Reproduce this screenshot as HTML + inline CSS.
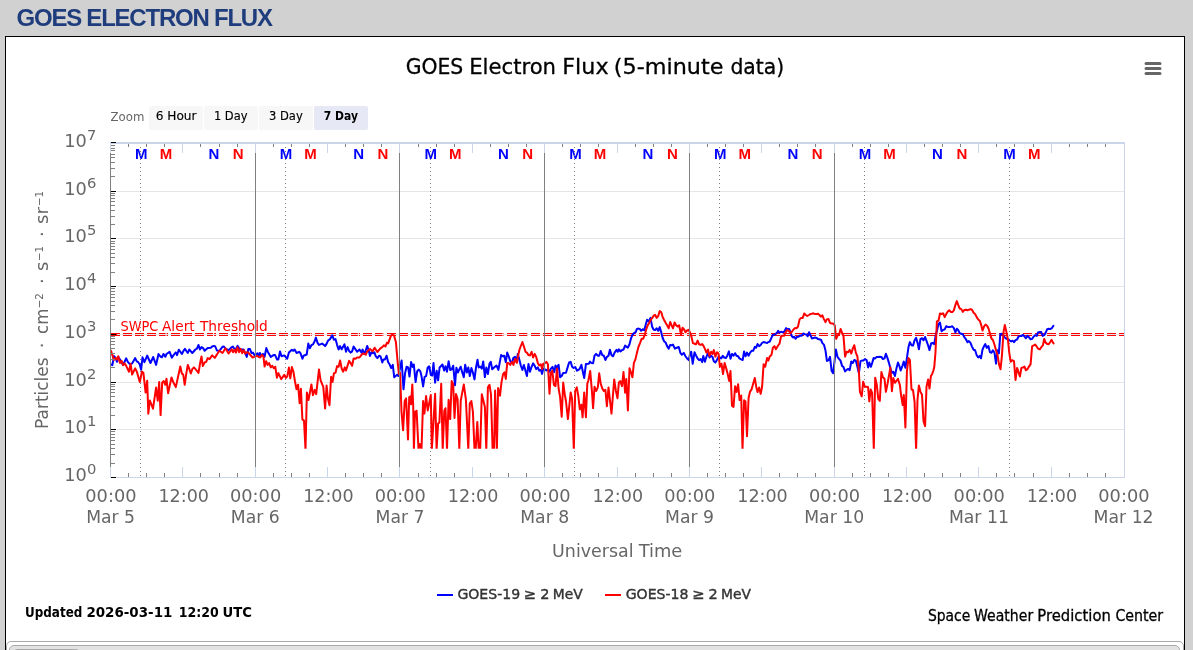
<!DOCTYPE html>
<html lang="en"><head><meta charset="utf-8"><title>GOES Electron Flux</title>
<style>
html,body{margin:0;padding:0;}
body{background:#d1d1d1;width:1193px;height:650px;overflow:hidden;position:relative;font-family:"Liberation Sans", sans-serif;}
h1{position:absolute;left:16.5px;top:4px;margin:0;font:bold 24px/28px "Liberation Sans", sans-serif;letter-spacing:-1.23px;color:#1f3d7c;white-space:nowrap;}
#panel{position:absolute;left:5px;top:36px;width:1178px;height:700px;background:#fff;border:1px solid #000;}
#tabs{position:absolute;left:0px;top:604px;width:1176px;height:200px;border:1px solid #aaa;border-radius:5px;background:#fff;}
#tabs ul{position:absolute;left:2px;top:3px;width:1169px;height:40px;margin:0;padding:0;list-style:none;border:1px solid #aaa;border-radius:5px;background:#e2e2e2;}
#tabs li{position:absolute;top:3px;height:40px;background:#c4c4c4;border:1px solid #aaa;border-radius:4px 4px 0 0;font-size:1px;color:transparent;}
#chart{position:absolute;left:0;top:0;}
text{font-family:"DejaVu Sans", "Liberation Sans", sans-serif;}
</style></head><body>
<h1>GOES ELECTRON FLUX</h1>
<div id="panel"><div id="tabs"><ul><li style="left:3px;width:65px"></li></ul></div></div>
<svg id="chart" width="1193" height="650" viewBox="0 0 1193 650">
<text y="73.5" font-size="21.2" fill="#000" stroke="#000" stroke-width="0.3"><tspan x="405.71" textLength="57.59" lengthAdjust="spacingAndGlyphs">GOES</tspan> <tspan x="469.26" textLength="86.78" lengthAdjust="spacingAndGlyphs">Electron</tspan> <tspan x="562.28" textLength="46.30" lengthAdjust="spacingAndGlyphs">Flux</tspan> <tspan x="613.81" textLength="109.61" lengthAdjust="spacingAndGlyphs">(5-minute</tspan> <tspan x="730.46" textLength="53.79" lengthAdjust="spacingAndGlyphs">data)</tspan></text>
<text x="110.6" y="121.1" font-size="12.9" fill="#666" textLength="33.8" lengthAdjust="spacingAndGlyphs">Zoom</text>
<rect x="149" y="106" width="54" height="24" rx="2" fill="#f7f7f7"/>
<text x="176.15" y="119.7" font-size="12.5" fill="#000" text-anchor="middle" textLength="40.9" lengthAdjust="spacingAndGlyphs" stroke="#000" stroke-width="0.15">6 Hour</text>
<rect x="204" y="106" width="54" height="24" rx="2" fill="#f7f7f7"/>
<text x="230.7" y="119.7" font-size="12.5" fill="#000" text-anchor="middle" textLength="33.6" lengthAdjust="spacingAndGlyphs" stroke="#000" stroke-width="0.15">1 Day</text>
<rect x="259" y="106" width="54" height="24" rx="2" fill="#f7f7f7"/>
<text x="285.85" y="119.7" font-size="12.5" fill="#000" text-anchor="middle" textLength="33.7" lengthAdjust="spacingAndGlyphs" stroke="#000" stroke-width="0.15">3 Day</text>
<rect x="314" y="106" width="54" height="24" rx="2" fill="#e6e9f5"/>
<text x="340.85" y="119.7" font-size="12.5" fill="#000" text-anchor="middle" textLength="34.1" lengthAdjust="spacingAndGlyphs" font-weight="bold" font-family='"DejaVu Sans Condensed", "DejaVu Sans", "Liberation Sans", sans-serif'>7 Day</text>
<path d="M1146 63.5H1160M1146 68.5H1160M1146 73.5H1160" stroke="#666" stroke-width="3" stroke-linecap="round" fill="none"/>
<path d="M111 334.5H1124" stroke="#f00" stroke-width="3" stroke-dasharray="9,3" fill="none"/>
<path d="M166.07 143V477" stroke="#fff" stroke-width="1" fill="none"/>
<path d="M213.60 143V477" stroke="#fff" stroke-width="1" fill="none"/>
<path d="M238.40 143V477" stroke="#fff" stroke-width="1" fill="none"/>
<path d="M310.78 143V477" stroke="#fff" stroke-width="1" fill="none"/>
<path d="M358.31 143V477" stroke="#fff" stroke-width="1" fill="none"/>
<path d="M383.11 143V477" stroke="#fff" stroke-width="1" fill="none"/>
<path d="M455.50 143V477" stroke="#fff" stroke-width="1" fill="none"/>
<path d="M503.03 143V477" stroke="#fff" stroke-width="1" fill="none"/>
<path d="M527.83 143V477" stroke="#fff" stroke-width="1" fill="none"/>
<path d="M600.21 143V477" stroke="#fff" stroke-width="1" fill="none"/>
<path d="M647.74 143V477" stroke="#fff" stroke-width="1" fill="none"/>
<path d="M672.54 143V477" stroke="#fff" stroke-width="1" fill="none"/>
<path d="M744.93 143V477" stroke="#fff" stroke-width="1" fill="none"/>
<path d="M792.46 143V477" stroke="#fff" stroke-width="1" fill="none"/>
<path d="M817.26 143V477" stroke="#fff" stroke-width="1" fill="none"/>
<path d="M889.64 143V477" stroke="#fff" stroke-width="1" fill="none"/>
<path d="M937.17 143V477" stroke="#fff" stroke-width="1" fill="none"/>
<path d="M961.97 143V477" stroke="#fff" stroke-width="1" fill="none"/>
<path d="M1034.36 143V477" stroke="#fff" stroke-width="1" fill="none"/>
<path d="M117 191.5H1124" stroke="#e6e6e6" stroke-width="1" fill="none"/>
<path d="M117 238.5H1124" stroke="#e6e6e6" stroke-width="1" fill="none"/>
<path d="M117 286.5H1124" stroke="#e6e6e6" stroke-width="1" fill="none"/>
<path d="M117 334.5H1124" stroke="#e6e6e6" stroke-width="1" fill="none"/>
<path d="M117 382.5H1124" stroke="#e6e6e6" stroke-width="1" fill="none"/>
<path d="M117 429.5H1124" stroke="#e6e6e6" stroke-width="1" fill="none"/>
<text y="331.2" font-size="13.7" fill="#f00"><tspan x="120.42" textLength="37.95" lengthAdjust="spacingAndGlyphs">SWPC</tspan> <tspan x="161.98" textLength="32.70" lengthAdjust="spacingAndGlyphs">Alert</tspan> <tspan x="199.98" textLength="67.74" lengthAdjust="spacingAndGlyphs">Threshold</tspan></text>
<text x="141.3" y="159" text-anchor="middle" font-size="15" font-weight="bold" fill="#00f" style="font-family:'Liberation Sans', sans-serif">M</text>
<text x="165.9" y="159" text-anchor="middle" font-size="15" font-weight="bold" fill="#f00" style="font-family:'Liberation Sans', sans-serif">M</text>
<text x="213.9" y="159" text-anchor="middle" font-size="15" font-weight="bold" fill="#00f" style="font-family:'Liberation Sans', sans-serif">N</text>
<text x="238.2" y="159" text-anchor="middle" font-size="15" font-weight="bold" fill="#f00" style="font-family:'Liberation Sans', sans-serif">N</text>
<text x="286.0" y="159" text-anchor="middle" font-size="15" font-weight="bold" fill="#00f" style="font-family:'Liberation Sans', sans-serif">M</text>
<text x="310.6" y="159" text-anchor="middle" font-size="15" font-weight="bold" fill="#f00" style="font-family:'Liberation Sans', sans-serif">M</text>
<text x="358.6" y="159" text-anchor="middle" font-size="15" font-weight="bold" fill="#00f" style="font-family:'Liberation Sans', sans-serif">N</text>
<text x="382.9" y="159" text-anchor="middle" font-size="15" font-weight="bold" fill="#f00" style="font-family:'Liberation Sans', sans-serif">N</text>
<text x="430.7" y="159" text-anchor="middle" font-size="15" font-weight="bold" fill="#00f" style="font-family:'Liberation Sans', sans-serif">M</text>
<text x="455.3" y="159" text-anchor="middle" font-size="15" font-weight="bold" fill="#f00" style="font-family:'Liberation Sans', sans-serif">M</text>
<text x="503.3" y="159" text-anchor="middle" font-size="15" font-weight="bold" fill="#00f" style="font-family:'Liberation Sans', sans-serif">N</text>
<text x="527.6" y="159" text-anchor="middle" font-size="15" font-weight="bold" fill="#f00" style="font-family:'Liberation Sans', sans-serif">N</text>
<text x="575.4" y="159" text-anchor="middle" font-size="15" font-weight="bold" fill="#00f" style="font-family:'Liberation Sans', sans-serif">M</text>
<text x="600.0" y="159" text-anchor="middle" font-size="15" font-weight="bold" fill="#f00" style="font-family:'Liberation Sans', sans-serif">M</text>
<text x="648.0" y="159" text-anchor="middle" font-size="15" font-weight="bold" fill="#00f" style="font-family:'Liberation Sans', sans-serif">N</text>
<text x="672.3" y="159" text-anchor="middle" font-size="15" font-weight="bold" fill="#f00" style="font-family:'Liberation Sans', sans-serif">N</text>
<text x="720.2" y="159" text-anchor="middle" font-size="15" font-weight="bold" fill="#00f" style="font-family:'Liberation Sans', sans-serif">M</text>
<text x="744.8" y="159" text-anchor="middle" font-size="15" font-weight="bold" fill="#f00" style="font-family:'Liberation Sans', sans-serif">M</text>
<text x="792.8" y="159" text-anchor="middle" font-size="15" font-weight="bold" fill="#00f" style="font-family:'Liberation Sans', sans-serif">N</text>
<text x="817.1" y="159" text-anchor="middle" font-size="15" font-weight="bold" fill="#f00" style="font-family:'Liberation Sans', sans-serif">N</text>
<text x="864.9" y="159" text-anchor="middle" font-size="15" font-weight="bold" fill="#00f" style="font-family:'Liberation Sans', sans-serif">M</text>
<text x="889.5" y="159" text-anchor="middle" font-size="15" font-weight="bold" fill="#f00" style="font-family:'Liberation Sans', sans-serif">M</text>
<text x="937.5" y="159" text-anchor="middle" font-size="15" font-weight="bold" fill="#00f" style="font-family:'Liberation Sans', sans-serif">N</text>
<text x="961.8" y="159" text-anchor="middle" font-size="15" font-weight="bold" fill="#f00" style="font-family:'Liberation Sans', sans-serif">N</text>
<text x="1009.6" y="159" text-anchor="middle" font-size="15" font-weight="bold" fill="#00f" style="font-family:'Liberation Sans', sans-serif">M</text>
<text x="1034.2" y="159" text-anchor="middle" font-size="15" font-weight="bold" fill="#f00" style="font-family:'Liberation Sans', sans-serif">M</text>
<path d="M140.5 143V477" stroke="#808080" stroke-width="1" stroke-dasharray="1,3" fill="none"/>
<path d="M285.5 143V477" stroke="#808080" stroke-width="1" stroke-dasharray="1,3" fill="none"/>
<path d="M430.5 143V477" stroke="#808080" stroke-width="1" stroke-dasharray="1,3" fill="none"/>
<path d="M574.5 143V477" stroke="#808080" stroke-width="1" stroke-dasharray="1,3" fill="none"/>
<path d="M719.5 143V477" stroke="#808080" stroke-width="1" stroke-dasharray="1,3" fill="none"/>
<path d="M864.5 143V477" stroke="#808080" stroke-width="1" stroke-dasharray="1,3" fill="none"/>
<path d="M1009.5 143V477" stroke="#808080" stroke-width="1" stroke-dasharray="1,3" fill="none"/>
<clipPath id="sc"><rect x="109" y="143" width="1017" height="305.85"/></clipPath>
<path d="M111.0 364.5 L112.4 365.1 L114.0 356.1 L115.5 357.7 L116.9 361.8 L118.5 357.3 L120.0 359.5 L123.1 364.9 L126.2 358.3 L127.8 361.8 L129.6 363.9 L132.1 363.5 L135.2 358.1 L136.8 361.4 L138.2 362.2 L139.8 364.5 L141.1 369.8 L142.5 357.3 L144.4 362.2 L147.2 355.6 L148.9 359.5 L150.5 363.0 L153.2 357.0 L156.1 364.9 L158.5 354.0 L160.4 356.5 L161.9 357.3 L163.5 354.0 L165.3 356.8 L166.5 354.0 L169.6 351.9 L171.8 357.7 L173.9 354.6 L175.8 352.4 L177.0 355.2 L178.8 349.7 L181.9 354.0 L183.8 350.3 L184.9 348.9 L187.8 353.0 L189.2 349.5 L192.3 353.0 L195.4 349.5 L196.9 348.6 L198.5 345.0 L199.9 349.5 L201.5 347.1 L203.1 348.1 L204.6 350.8 L207.7 348.1 L210.8 347.7 L212.2 346.5 L213.8 345.9 L215.3 346.5 L216.9 350.5 L219.4 350.8 L220.9 348.9 L222.5 346.8 L223.9 346.5 L225.5 348.6 L228.6 350.1 L231.1 347.7 L232.9 346.5 L234.8 349.5 L236.0 348.9 L237.5 345.9 L239.1 348.3 L240.9 349.5 L243.6 349.5 L245.2 353.2 L246.8 356.9 L248.3 348.9 L249.9 348.9 L251.4 353.0 L252.9 352.6 L254.5 355.1 L255.9 354.7 L257.5 353.2 L258.4 356.3 L259.9 353.0 L261.1 355.7 L263.0 353.9 L264.6 356.7 L266.3 348.1 L267.9 352.0 L270.8 356.9 L273.5 355.1 L275.1 355.1 L277.1 359.6 L278.4 359.4 L280.0 351.4 L281.5 356.3 L284.3 355.4 L287.2 358.8 L288.9 352.6 L291.9 349.8 L293.4 350.8 L294.6 349.5 L296.6 353.0 L299.1 351.8 L300.5 353.2 L302.4 358.8 L303.6 355.7 L306.7 354.5 L308.3 343.6 L309.8 348.3 L311.4 345.2 L312.9 344.4 L314.3 342.1 L315.9 337.6 L317.5 342.8 L319.0 344.9 L322.1 343.6 L325.1 346.1 L326.8 343.4 L328.2 340.3 L329.8 339.4 L332.3 335.4 L333.9 339.7 L335.5 339.1 L337.0 344.6 L338.6 349.5 L340.1 346.1 L341.7 349.3 L343.2 346.5 L344.5 344.4 L346.0 351.8 L347.6 347.1 L349.1 351.0 L350.7 352.6 L352.1 351.4 L353.6 346.5 L355.2 348.9 L357.1 351.8 L359.5 349.5 L361.4 352.6 L362.6 349.5 L364.1 353.9 L365.7 350.8 L367.2 345.9 L368.8 350.8 L370.0 355.9 L371.5 352.2 L373.1 353.2 L374.3 352.2 L375.8 356.3 L377.4 358.1 L379.2 355.7 L380.5 356.3 L382.3 362.5 L383.5 359.4 L385.0 359.4 L386.6 355.7 L388.1 361.9 L389.7 364.6 L391.2 368.0 L392.8 364.9 L394.2 377.2 L397.1 374.8 L398.3 376.0 L399.8 369.2 L401.6 360.4 L403.5 389.3 L405.1 372.9 L406.6 366.8 L408.1 367.4 L409.5 376.6 L411.1 362.0 L412.6 366.9 L413.8 364.5 L415.6 382.1 L417.2 371.2 L418.7 369.6 L420.3 371.2 L421.5 376.1 L423.1 386.4 L424.6 376.8 L426.1 376.1 L427.7 367.5 L429.2 366.3 L430.8 374.9 L432.2 375.5 L433.5 363.1 L435.1 382.7 L436.7 370.8 L438.1 380.3 L439.6 367.5 L442.5 364.5 L444.1 370.6 L445.5 366.3 L447.0 371.7 L448.6 361.3 L450.2 370.0 L451.7 369.4 L453.2 365.7 L455.0 385.2 L456.4 367.7 L457.9 372.5 L459.3 369.4 L460.7 366.7 L462.1 371.9 L463.8 377.2 L465.2 364.7 L466.8 372.5 L468.3 367.5 L469.8 376.0 L471.4 368.1 L472.9 372.5 L474.5 379.4 L475.9 368.1 L477.5 359.7 L478.7 367.4 L480.2 366.5 L481.8 368.6 L483.2 361.4 L484.9 377.1 L486.3 367.6 L487.9 374.0 L489.5 363.7 L490.8 361.9 L492.2 369.2 L494.1 367.4 L496.5 365.5 L498.4 369.9 L501.1 355.1 L502.7 356.3 L504.2 355.7 L505.8 362.3 L507.2 352.6 L508.9 356.9 L510.3 361.2 L511.9 363.1 L513.4 357.9 L515.0 356.9 L516.5 361.7 L517.8 354.0 L519.3 359.4 L520.8 365.5 L522.4 369.9 L523.9 364.9 L526.9 376.1 L528.5 363.9 L530.0 371.7 L531.6 366.8 L533.1 363.3 L534.7 365.8 L536.2 369.2 L537.8 367.4 L539.2 370.7 L540.9 369.9 L542.1 373.9 L543.3 368.6 L544.8 369.2 L546.4 370.5 L547.9 369.2 L549.5 371.7 L550.9 368.6 L552.5 366.8 L554.3 372.1 L555.5 365.5 L557.0 367.4 L558.6 364.9 L560.1 377.2 L561.7 376.0 L563.2 372.9 L566.0 372.7 L567.6 367.4 L569.1 362.5 L570.7 361.9 L572.1 366.8 L573.6 368.0 L575.2 367.0 L577.1 370.7 L579.5 369.2 L581.4 364.9 L582.6 370.5 L584.2 378.0 L585.9 364.1 L588.8 363.7 L590.0 361.6 L591.5 363.1 L593.1 363.3 L594.5 355.7 L596.1 353.9 L598.0 355.7 L599.2 355.7 L600.7 351.0 L602.3 355.1 L603.8 355.7 L605.4 360.0 L606.9 356.9 L608.5 355.7 L609.9 349.7 L611.5 355.1 L613.0 356.3 L614.6 352.6 L616.5 349.8 L617.7 351.8 L618.9 349.3 L620.4 351.4 L622.0 350.1 L623.5 349.5 L625.1 345.6 L627.8 347.7 L629.5 344.3 L631.1 338.1 L632.6 334.5 L634.2 333.0 L635.7 332.2 L636.9 328.9 L638.5 328.6 L639.8 328.9 L641.2 330.8 L642.9 329.3 L644.3 330.1 L645.9 324.0 L647.1 319.7 L649.0 321.5 L650.5 317.9 L652.1 326.5 L653.5 329.5 L655.1 330.1 L656.6 328.3 L658.2 330.8 L659.7 327.1 L661.3 332.6 L662.5 337.5 L664.0 341.2 L665.6 342.5 L667.1 346.1 L668.7 348.6 L670.2 344.9 L671.8 345.3 L673.0 344.6 L674.9 348.6 L676.1 348.0 L678.8 347.0 L680.4 352.9 L681.9 354.8 L683.8 352.9 L685.3 356.0 L687.1 358.5 L688.8 360.1 L690.2 352.9 L691.2 351.7 L692.7 363.8 L694.5 352.3 L696.0 355.4 L697.6 358.5 L699.1 360.1 L700.7 359.1 L702.2 362.1 L703.3 355.9 L704.9 361.7 L706.4 356.9 L708.0 353.2 L709.5 357.5 L711.1 355.7 L712.5 356.9 L713.8 361.2 L715.4 362.5 L716.9 360.0 L718.5 356.9 L719.9 357.5 L721.2 358.4 L722.8 355.9 L724.2 357.5 L725.9 358.1 L727.3 355.7 L728.9 351.4 L730.5 358.8 L732.0 353.9 L733.5 355.7 L735.1 353.2 L736.5 355.7 L738.1 356.3 L739.4 358.4 L741.2 359.4 L742.7 360.0 L744.1 351.4 L745.5 356.3 L747.0 352.6 L748.6 355.7 L750.1 352.6 L751.7 350.8 L753.2 350.8 L754.8 346.8 L756.2 347.7 L757.5 344.0 L759.1 346.1 L760.5 345.2 L762.1 342.8 L763.6 342.1 L765.2 342.4 L767.1 343.1 L768.3 342.1 L769.8 341.5 L771.4 337.9 L772.9 334.8 L774.5 334.8 L775.9 333.8 L777.5 332.1 L778.1 330.8 L779.5 332.6 L781.1 331.8 L782.6 332.2 L784.2 331.8 L786.1 328.1 L787.3 329.5 L789.1 328.9 L790.4 332.2 L791.9 336.3 L793.1 337.5 L794.3 336.7 L795.5 338.8 L797.1 336.7 L798.6 336.7 L800.2 335.4 L801.7 335.7 L803.3 333.5 L804.8 334.2 L806.4 334.5 L807.6 336.3 L809.1 332.2 L810.7 335.7 L811.9 338.4 L813.4 338.1 L815.0 337.5 L816.5 337.9 L818.1 339.1 L819.9 339.4 L821.1 340.0 L822.4 343.1 L823.9 344.6 L825.5 350.5 L826.9 360.9 L828.5 360.3 L830.0 356.9 L831.6 370.8 L833.1 373.2 L834.3 363.4 L835.9 349.4 L837.5 356.9 L839.0 358.8 L840.5 360.6 L842.1 365.9 L843.5 367.1 L845.1 371.4 L846.6 369.9 L848.2 368.9 L849.7 370.1 L851.3 361.5 L852.8 362.8 L852.7 363.1 L854.3 360.0 L855.8 360.6 L857.4 366.8 L858.9 373.3 L860.5 361.2 L861.9 360.6 L863.5 360.4 L865.0 359.1 L866.6 360.0 L868.1 367.4 L869.3 362.5 L870.9 366.8 L872.1 363.1 L873.6 358.1 L875.2 358.4 L876.7 356.9 L878.3 356.9 L879.8 356.7 L881.4 356.9 L882.9 359.1 L884.5 358.4 L885.9 353.8 L887.5 358.1 L889.0 363.1 L890.6 369.2 L891.9 372.9 L893.3 371.7 L894.9 376.0 L896.4 368.6 L898.0 362.5 L899.2 365.5 L900.7 370.5 L902.3 366.1 L903.8 361.6 L905.4 367.8 L906.9 358.1 L908.5 347.1 L909.9 342.1 L911.5 345.2 L913.0 345.6 L914.6 340.3 L916.1 337.9 L917.7 343.4 L918.9 349.3 L920.4 339.1 L922.0 338.2 L923.5 340.3 L925.1 337.0 L926.5 340.9 L928.1 345.4 L929.5 350.1 L931.1 343.5 L932.6 342.9 L934.2 344.1 L935.7 335.5 L937.3 329.4 L938.5 323.9 L940.0 322.6 L941.6 331.2 L943.1 330.0 L944.7 329.4 L946.2 326.3 L947.8 326.9 L949.2 326.9 L950.9 326.7 L952.3 326.3 L953.9 328.1 L955.4 332.5 L956.8 328.8 L958.2 330.0 L959.7 333.3 L961.3 333.7 L962.8 334.3 L964.4 337.4 L965.9 339.2 L967.5 342.3 L968.9 341.1 L970.5 342.9 L972.0 346.6 L973.6 349.7 L975.1 350.3 L976.7 355.2 L978.2 357.4 L979.8 355.9 L981.0 358.3 L982.5 349.7 L984.1 346.0 L985.3 344.1 L986.8 347.9 L988.4 346.0 L989.9 352.1 L991.5 352.8 L992.9 350.3 L994.5 352.8 L996.0 363.7 L997.4 350.3 L998.9 353.4 L1000.3 334.3 L1001.9 333.7 L1003.5 335.9 L1005.0 337.7 L1006.6 338.9 L1008.1 339.3 L1009.7 340.5 L1011.2 341.4 L1012.8 340.8 L1014.0 342.2 L1015.5 340.1 L1017.1 339.5 L1018.5 336.5 L1020.1 336.1 L1021.6 335.9 L1023.0 334.9 L1024.5 336.5 L1025.9 338.3 L1027.5 335.9 L1029.0 337.3 L1030.6 339.3 L1032.1 338.9 L1033.7 336.5 L1035.2 335.2 L1036.8 335.9 L1038.0 332.4 L1039.6 332.1 L1041.1 331.9 L1042.7 335.9 L1044.2 335.2 L1045.6 332.8 L1047.2 329.1 L1048.7 328.7 L1050.3 329.1 L1051.8 328.2 L1053.4 325.8" stroke="#00f" stroke-width="2" stroke-linejoin="round" stroke-linecap="round" fill="none" clip-path="url(#sc)"/>
<path d="M111.0 350.9 L113.9 359.9 L115.5 358.1 L116.9 359.5 L118.3 356.2 L120.0 363.0 L121.6 360.8 L123.1 365.1 L124.7 363.5 L126.2 365.9 L129.0 371.7 L130.6 364.0 L132.1 374.5 L135.2 368.4 L136.8 371.6 L139.8 382.1 L141.9 371.6 L143.4 372.8 L145.6 392.6 L147.2 380.7 L148.3 413.7 L149.9 400.5 L153.0 408.7 L156.1 387.6 L157.7 400.7 L159.2 382.0 L160.6 415.1 L162.2 382.5 L163.8 381.1 L165.3 384.8 L166.5 378.8 L168.1 393.2 L171.5 377.4 L173.3 382.3 L175.8 387.1 L180.3 366.5 L181.9 373.7 L183.2 374.3 L184.7 384.8 L186.2 374.1 L187.8 364.9 L189.2 368.6 L190.8 373.5 L192.3 369.2 L193.9 367.4 L195.4 369.0 L198.5 372.9 L200.1 363.1 L201.5 356.5 L202.8 366.1 L204.6 362.5 L206.2 361.9 L207.7 358.1 L209.5 359.1 L212.2 355.4 L214.8 357.9 L216.9 354.5 L219.4 350.8 L222.5 353.0 L225.5 348.3 L228.6 353.5 L231.7 349.3 L233.2 352.2 L234.8 349.5 L236.0 352.6 L237.5 347.3 L239.1 352.2 L240.6 348.9 L242.2 353.2 L243.6 350.1 L245.2 353.5 L247.1 352.2 L248.3 352.6 L249.9 354.5 L252.6 357.5 L254.5 356.9 L257.3 355.9 L258.7 356.9 L260.2 357.5 L261.8 355.1 L263.4 356.3 L264.6 366.6 L266.1 361.2 L267.6 364.9 L269.1 363.1 L270.8 367.4 L272.2 365.8 L273.8 368.2 L275.3 366.8 L276.9 377.7 L278.4 373.1 L281.2 379.1 L284.3 374.8 L285.8 377.9 L287.2 376.6 L288.9 367.6 L290.3 378.3 L291.9 367.0 L293.4 371.7 L295.0 381.5 L296.5 389.2 L298.1 384.7 L299.6 403.2 L300.9 388.8 L302.4 419.4 L304.0 420.6 L305.5 449.4 L306.9 392.5 L308.5 400.1 L311.4 384.5 L312.9 395.2 L314.7 389.9 L316.2 394.1 L319.0 369.4 L320.6 380.3 L323.3 386.8 L325.1 408.5 L326.6 385.5 L327.9 398.5 L329.5 405.3 L331.1 376.8 L332.5 382.0 L333.9 373.5 L335.5 372.7 L337.1 366.1 L338.6 366.8 L340.1 360.4 L341.7 368.6 L343.2 371.7 L344.8 367.4 L346.0 370.5 L349.1 360.9 L350.6 363.1 L352.1 365.8 L353.6 358.4 L355.2 358.8 L357.1 357.5 L359.5 357.5 L362.2 353.9 L363.9 353.5 L365.7 354.8 L367.2 351.4 L370.0 348.9 L372.5 351.4 L374.6 347.7 L377.4 352.0 L379.9 348.9 L382.9 346.5 L383.8 345.2 L385.4 346.5 L386.9 342.8 L388.1 343.4 L390.9 335.8 L392.1 334.8 L394.0 335.4 L395.9 342.1 L397.4 359.4 L398.9 374.1 L400.1 372.9 L401.5 411.9 L403.1 430.2 L404.7 400.9 L406.1 398.4 L408.0 439.4 L409.2 397.1 L410.5 396.5 L411.1 404.3 L412.3 384.4 L413.2 405.8 L413.9 449.4 L415.0 411.9 L416.6 410.7 L418.5 449.4 L419.7 443.9 L421.5 449.4 L423.1 401.0 L424.4 413.6 L426.1 396.1 L427.7 410.5 L429.2 403.3 L430.8 394.9 L431.8 449.4 L433.5 421.8 L435.1 393.7 L436.6 449.4 L438.1 423.6 L439.4 422.4 L441.2 383.8 L442.7 449.4 L444.3 410.7 L445.5 408.2 L447.0 449.4 L448.6 399.8 L450.2 419.1 L451.7 381.1 L453.2 384.2 L454.5 417.9 L456.0 394.1 L457.6 399.0 L459.3 449.4 L460.7 400.9 L463.8 384.4 L465.9 399.6 L468.3 449.4 L469.8 403.3 L471.4 401.1 L472.9 411.9 L474.5 449.4 L475.7 449.4 L477.3 421.9 L478.7 449.4 L480.2 449.4 L481.8 394.3 L484.9 407.0 L486.3 449.4 L487.9 387.3 L489.5 384.9 L491.0 394.7 L492.6 449.4 L494.1 449.4 L495.1 390.6 L496.9 449.4 L498.1 388.1 L500.0 395.7 L501.5 382.1 L503.1 374.1 L504.5 372.3 L505.8 378.9 L507.2 363.1 L508.9 363.3 L510.3 364.9 L511.9 361.9 L513.4 364.9 L515.0 358.9 L516.9 362.9 L518.1 355.7 L519.5 349.5 L522.4 342.0 L523.9 346.5 L525.5 351.8 L526.9 352.6 L528.5 355.1 L530.0 355.4 L531.6 351.8 L533.1 357.5 L534.7 353.9 L536.2 356.9 L537.8 363.1 L539.2 365.5 L540.9 364.3 L542.1 369.1 L543.3 363.7 L544.8 363.3 L546.4 361.9 L547.9 364.3 L549.5 393.7 L550.9 372.9 L552.3 370.5 L553.9 384.9 L555.5 386.1 L557.0 368.4 L558.6 388.5 L560.1 397.1 L561.7 416.7 L563.2 382.6 L564.8 394.7 L566.0 401.5 L567.9 419.1 L570.7 392.4 L572.1 399.0 L573.8 449.4 L575.2 391.0 L576.8 387.3 L578.3 395.9 L579.8 409.3 L581.4 404.7 L582.6 417.3 L584.2 392.4 L585.9 417.3 L587.3 383.6 L588.4 380.5 L590.2 370.9 L591.9 391.0 L593.1 408.1 L594.5 386.7 L596.1 391.0 L597.8 387.3 L599.2 373.3 L600.7 383.6 L602.3 388.5 L603.8 391.0 L605.4 389.8 L606.9 406.2 L608.5 387.5 L609.9 399.6 L611.5 413.6 L614.2 379.5 L615.9 391.0 L617.5 398.2 L618.9 382.4 L620.4 381.1 L622.0 386.1 L623.5 372.1 L625.1 392.7 L626.3 378.9 L627.9 410.5 L629.5 368.3 L631.1 372.6 L632.4 377.3 L633.9 362.8 L635.5 359.1 L636.9 352.9 L638.5 346.8 L640.0 343.1 L641.6 338.8 L643.1 338.8 L644.7 335.1 L646.2 329.5 L647.8 325.2 L649.2 322.8 L650.9 319.7 L652.3 317.9 L653.9 315.4 L655.1 314.8 L656.6 317.9 L658.2 316.0 L659.7 311.1 L661.3 312.3 L662.5 316.6 L664.0 319.7 L665.6 322.8 L667.1 325.2 L668.7 328.3 L670.2 321.9 L671.8 325.9 L673.0 328.3 L674.6 322.4 L676.1 325.2 L677.5 326.5 L679.1 325.2 L681.0 334.3 L682.5 327.7 L684.1 329.5 L685.5 332.2 L687.1 330.5 L688.6 329.8 L690.2 333.0 L691.5 336.9 L692.9 343.1 L694.5 343.7 L696.0 344.3 L697.6 340.6 L699.1 344.3 L700.7 344.9 L702.2 344.1 L703.5 345.9 L704.9 348.9 L706.4 352.6 L708.0 349.5 L709.5 355.7 L711.1 351.8 L712.5 353.9 L713.8 350.1 L715.4 356.7 L716.9 352.2 L718.5 353.5 L719.9 366.8 L721.5 363.7 L723.0 374.0 L724.6 363.1 L726.1 368.0 L727.7 374.1 L729.2 381.0 L730.5 370.9 L732.0 405.8 L733.5 407.0 L735.1 386.3 L736.5 392.1 L738.1 384.2 L739.6 400.1 L741.2 395.5 L742.5 449.4 L744.1 400.2 L745.5 401.5 L747.0 436.3 L748.6 397.8 L750.1 391.6 L751.7 389.1 L753.2 383.6 L754.8 378.0 L756.2 386.7 L757.5 392.1 L759.1 387.5 L760.7 393.9 L762.1 386.7 L763.6 364.3 L765.2 366.8 L767.1 357.9 L768.3 360.6 L769.8 356.3 L771.4 355.1 L772.9 347.7 L774.5 346.1 L775.9 349.3 L777.5 346.5 L778.1 345.5 L779.5 343.7 L781.1 336.3 L782.6 335.7 L784.2 335.7 L785.7 332.2 L787.3 330.1 L788.8 330.8 L790.4 333.2 L791.9 331.8 L793.5 329.5 L794.9 328.1 L796.5 328.3 L798.0 326.5 L799.6 319.4 L801.1 317.9 L802.7 317.9 L804.2 313.5 L805.8 315.0 L807.2 316.0 L808.9 315.0 L810.3 314.1 L811.9 313.8 L813.4 313.3 L815.0 314.1 L816.5 314.1 L818.1 313.8 L819.5 315.0 L820.8 316.6 L822.4 315.4 L823.9 319.1 L825.5 322.1 L826.7 319.4 L828.5 319.1 L830.0 322.8 L831.6 323.6 L833.1 323.6 L834.7 325.2 L836.2 338.8 L837.8 335.1 L839.0 335.1 L840.6 328.9 L842.1 333.0 L843.5 336.3 L845.1 356.6 L846.6 351.7 L848.2 352.3 L849.7 349.9 L851.3 353.5 L852.8 348.6 L852.7 348.6 L854.3 345.2 L855.8 352.6 L857.4 356.3 L858.9 371.7 L859.9 391.6 L861.7 396.3 L863.2 381.7 L864.8 386.7 L866.6 386.7 L868.1 387.3 L869.3 401.3 L870.7 389.5 L872.1 392.9 L873.8 449.4 L875.2 377.7 L876.7 384.2 L878.3 399.0 L879.8 400.9 L881.4 371.9 L882.9 377.2 L884.5 378.8 L885.9 391.8 L887.5 384.0 L889.0 375.4 L890.4 367.6 L891.9 391.2 L893.3 378.0 L894.9 382.8 L896.4 380.9 L898.0 378.8 L899.9 385.2 L901.1 395.3 L902.7 405.0 L903.8 394.9 L905.4 427.4 L906.9 371.7 L908.5 358.1 L909.9 360.0 L911.5 389.5 L913.0 390.0 L914.6 402.1 L916.1 449.4 L917.5 399.6 L918.9 385.4 L920.4 391.6 L922.0 394.7 L923.5 421.1 L925.1 426.1 L926.5 386.7 L928.1 379.5 L929.5 388.6 L930.9 376.0 L932.1 374.2 L933.4 370.5 L934.3 366.8 L935.5 352.0 L936.9 321.4 L938.5 320.8 L940.0 313.4 L941.6 314.0 L943.1 313.4 L944.7 317.1 L946.2 314.0 L947.8 311.5 L949.2 310.3 L950.9 311.9 L952.3 312.1 L953.9 310.3 L955.4 304.8 L956.8 301.1 L958.2 304.8 L959.7 308.5 L961.3 309.1 L962.8 311.9 L964.4 309.9 L965.9 309.7 L967.5 310.3 L968.9 309.7 L970.5 309.1 L972.0 309.7 L973.6 312.8 L975.1 314.0 L976.7 317.1 L978.2 319.5 L979.8 320.8 L981.2 325.1 L982.5 330.6 L984.1 326.3 L985.5 324.5 L987.1 325.7 L988.6 328.8 L990.2 334.3 L991.5 338.6 L992.9 339.9 L994.5 344.8 L996.0 350.3 L997.6 355.2 L998.9 363.9 L1000.5 369.3 L1001.9 356.1 L1003.5 332.1 L1004.8 324.9 L1006.2 330.9 L1007.9 339.5 L1009.3 353.1 L1010.7 361.7 L1012.1 360.2 L1014.0 361.1 L1015.5 380.0 L1017.1 367.9 L1018.5 372.1 L1019.9 376.5 L1021.4 367.9 L1022.9 367.6 L1024.5 366.6 L1025.9 370.3 L1027.5 369.1 L1029.0 366.6 L1030.6 364.1 L1032.1 346.3 L1033.7 345.4 L1035.2 344.5 L1036.8 346.7 L1038.2 348.8 L1039.8 349.4 L1041.3 347.2 L1042.9 345.4 L1044.2 338.9 L1045.6 342.6 L1047.2 343.9 L1048.7 344.2 L1050.3 342.0 L1051.5 339.8 L1053.0 342.6 L1053.6 343.5" stroke="#f00" stroke-width="2" stroke-linejoin="round" stroke-linecap="round" fill="none" clip-path="url(#sc)"/>
<rect x="255" y="143" width="1" height="334" fill="#808080"/>
<rect x="399" y="143" width="1" height="334" fill="#808080"/>
<rect x="544" y="143" width="1" height="334" fill="#808080"/>
<rect x="689" y="143" width="1" height="334" fill="#808080"/>
<rect x="834" y="143" width="1" height="334" fill="#808080"/>
<rect x="110" y="143" width="1" height="334" fill="#808080"/>
<rect x="1124" y="142" width="1" height="336" fill="#ccd6eb"/>
<rect x="110" y="477" width="1015" height="1" fill="#ccd6eb"/>
<rect x="110" y="143" width="1" height="10" fill="#ccd6eb"/>
<rect x="110" y="467" width="1" height="10" fill="#ccd6eb"/>
<rect x="128" y="143" width="1" height="4" fill="#808080"/>
<rect x="128" y="473" width="1" height="4" fill="#808080"/>
<rect x="146" y="143" width="1" height="4" fill="#808080"/>
<rect x="146" y="473" width="1" height="4" fill="#808080"/>
<rect x="164" y="143" width="1" height="4" fill="#808080"/>
<rect x="164" y="473" width="1" height="4" fill="#808080"/>
<rect x="182" y="143" width="1" height="10" fill="#ccd6eb"/>
<rect x="182" y="467" width="1" height="10" fill="#ccd6eb"/>
<rect x="200" y="143" width="1" height="4" fill="#808080"/>
<rect x="200" y="473" width="1" height="4" fill="#808080"/>
<rect x="219" y="143" width="1" height="4" fill="#808080"/>
<rect x="219" y="473" width="1" height="4" fill="#808080"/>
<rect x="237" y="143" width="1" height="4" fill="#808080"/>
<rect x="237" y="473" width="1" height="4" fill="#808080"/>
<rect x="255" y="143" width="1" height="10" fill="#ccd6eb"/>
<rect x="255" y="467" width="1" height="10" fill="#ccd6eb"/>
<rect x="273" y="143" width="1" height="4" fill="#808080"/>
<rect x="273" y="473" width="1" height="4" fill="#808080"/>
<rect x="291" y="143" width="1" height="4" fill="#808080"/>
<rect x="291" y="473" width="1" height="4" fill="#808080"/>
<rect x="309" y="143" width="1" height="4" fill="#808080"/>
<rect x="309" y="473" width="1" height="4" fill="#808080"/>
<rect x="327" y="143" width="1" height="10" fill="#ccd6eb"/>
<rect x="327" y="467" width="1" height="10" fill="#ccd6eb"/>
<rect x="345" y="143" width="1" height="4" fill="#808080"/>
<rect x="345" y="473" width="1" height="4" fill="#808080"/>
<rect x="363" y="143" width="1" height="4" fill="#808080"/>
<rect x="363" y="473" width="1" height="4" fill="#808080"/>
<rect x="381" y="143" width="1" height="4" fill="#808080"/>
<rect x="381" y="473" width="1" height="4" fill="#808080"/>
<rect x="399" y="143" width="1" height="10" fill="#ccd6eb"/>
<rect x="399" y="467" width="1" height="10" fill="#ccd6eb"/>
<rect x="418" y="143" width="1" height="4" fill="#808080"/>
<rect x="418" y="473" width="1" height="4" fill="#808080"/>
<rect x="436" y="143" width="1" height="4" fill="#808080"/>
<rect x="436" y="473" width="1" height="4" fill="#808080"/>
<rect x="454" y="143" width="1" height="4" fill="#808080"/>
<rect x="454" y="473" width="1" height="4" fill="#808080"/>
<rect x="472" y="143" width="1" height="10" fill="#ccd6eb"/>
<rect x="472" y="467" width="1" height="10" fill="#ccd6eb"/>
<rect x="490" y="143" width="1" height="4" fill="#808080"/>
<rect x="490" y="473" width="1" height="4" fill="#808080"/>
<rect x="508" y="143" width="1" height="4" fill="#808080"/>
<rect x="508" y="473" width="1" height="4" fill="#808080"/>
<rect x="526" y="143" width="1" height="4" fill="#808080"/>
<rect x="526" y="473" width="1" height="4" fill="#808080"/>
<rect x="544" y="143" width="1" height="10" fill="#ccd6eb"/>
<rect x="544" y="467" width="1" height="10" fill="#ccd6eb"/>
<rect x="562" y="143" width="1" height="4" fill="#808080"/>
<rect x="562" y="473" width="1" height="4" fill="#808080"/>
<rect x="580" y="143" width="1" height="4" fill="#808080"/>
<rect x="580" y="473" width="1" height="4" fill="#808080"/>
<rect x="598" y="143" width="1" height="4" fill="#808080"/>
<rect x="598" y="473" width="1" height="4" fill="#808080"/>
<rect x="617" y="143" width="1" height="10" fill="#ccd6eb"/>
<rect x="617" y="467" width="1" height="10" fill="#ccd6eb"/>
<rect x="635" y="143" width="1" height="4" fill="#808080"/>
<rect x="635" y="473" width="1" height="4" fill="#808080"/>
<rect x="653" y="143" width="1" height="4" fill="#808080"/>
<rect x="653" y="473" width="1" height="4" fill="#808080"/>
<rect x="671" y="143" width="1" height="4" fill="#808080"/>
<rect x="671" y="473" width="1" height="4" fill="#808080"/>
<rect x="689" y="143" width="1" height="10" fill="#ccd6eb"/>
<rect x="689" y="467" width="1" height="10" fill="#ccd6eb"/>
<rect x="707" y="143" width="1" height="4" fill="#808080"/>
<rect x="707" y="473" width="1" height="4" fill="#808080"/>
<rect x="725" y="143" width="1" height="4" fill="#808080"/>
<rect x="725" y="473" width="1" height="4" fill="#808080"/>
<rect x="743" y="143" width="1" height="4" fill="#808080"/>
<rect x="743" y="473" width="1" height="4" fill="#808080"/>
<rect x="761" y="143" width="1" height="10" fill="#ccd6eb"/>
<rect x="761" y="467" width="1" height="10" fill="#ccd6eb"/>
<rect x="779" y="143" width="1" height="4" fill="#808080"/>
<rect x="779" y="473" width="1" height="4" fill="#808080"/>
<rect x="797" y="143" width="1" height="4" fill="#808080"/>
<rect x="797" y="473" width="1" height="4" fill="#808080"/>
<rect x="815" y="143" width="1" height="4" fill="#808080"/>
<rect x="815" y="473" width="1" height="4" fill="#808080"/>
<rect x="834" y="143" width="1" height="10" fill="#ccd6eb"/>
<rect x="834" y="467" width="1" height="10" fill="#ccd6eb"/>
<rect x="852" y="143" width="1" height="4" fill="#808080"/>
<rect x="852" y="473" width="1" height="4" fill="#808080"/>
<rect x="870" y="143" width="1" height="4" fill="#808080"/>
<rect x="870" y="473" width="1" height="4" fill="#808080"/>
<rect x="888" y="143" width="1" height="4" fill="#808080"/>
<rect x="888" y="473" width="1" height="4" fill="#808080"/>
<rect x="906" y="143" width="1" height="10" fill="#ccd6eb"/>
<rect x="906" y="467" width="1" height="10" fill="#ccd6eb"/>
<rect x="924" y="143" width="1" height="4" fill="#808080"/>
<rect x="924" y="473" width="1" height="4" fill="#808080"/>
<rect x="942" y="143" width="1" height="4" fill="#808080"/>
<rect x="942" y="473" width="1" height="4" fill="#808080"/>
<rect x="960" y="143" width="1" height="4" fill="#808080"/>
<rect x="960" y="473" width="1" height="4" fill="#808080"/>
<rect x="978" y="143" width="1" height="10" fill="#ccd6eb"/>
<rect x="978" y="467" width="1" height="10" fill="#ccd6eb"/>
<rect x="996" y="143" width="1" height="4" fill="#808080"/>
<rect x="996" y="473" width="1" height="4" fill="#808080"/>
<rect x="1014" y="143" width="1" height="4" fill="#808080"/>
<rect x="1014" y="473" width="1" height="4" fill="#808080"/>
<rect x="1033" y="143" width="1" height="4" fill="#808080"/>
<rect x="1033" y="473" width="1" height="4" fill="#808080"/>
<rect x="1051" y="143" width="1" height="10" fill="#ccd6eb"/>
<rect x="1051" y="467" width="1" height="10" fill="#ccd6eb"/>
<rect x="1069" y="143" width="1" height="4" fill="#808080"/>
<rect x="1069" y="473" width="1" height="4" fill="#808080"/>
<rect x="1087" y="143" width="1" height="4" fill="#808080"/>
<rect x="1087" y="473" width="1" height="4" fill="#808080"/>
<rect x="1105" y="143" width="1" height="4" fill="#808080"/>
<rect x="1105" y="473" width="1" height="4" fill="#808080"/>
<rect x="110" y="142" width="1015" height="2" fill="#ccd6eb"/>
<rect x="111" y="176" width="4" height="1" fill="#808080"/>
<rect x="111" y="168" width="4" height="1" fill="#808080"/>
<rect x="111" y="162" width="4" height="1" fill="#808080"/>
<rect x="111" y="157" width="4" height="1" fill="#808080"/>
<rect x="111" y="154" width="4" height="1" fill="#808080"/>
<rect x="111" y="150" width="4" height="1" fill="#808080"/>
<rect x="111" y="148" width="4" height="1" fill="#808080"/>
<rect x="111" y="145" width="4" height="1" fill="#808080"/>
<rect x="111" y="142" width="5" height="1" fill="#000"/>
<rect x="111" y="224" width="4" height="1" fill="#808080"/>
<rect x="111" y="216" width="4" height="1" fill="#808080"/>
<rect x="111" y="210" width="4" height="1" fill="#808080"/>
<rect x="111" y="205" width="4" height="1" fill="#808080"/>
<rect x="111" y="201" width="4" height="1" fill="#808080"/>
<rect x="111" y="198" width="4" height="1" fill="#808080"/>
<rect x="111" y="195" width="4" height="1" fill="#808080"/>
<rect x="111" y="193" width="4" height="1" fill="#808080"/>
<rect x="111" y="191" width="5" height="1" fill="#000"/>
<rect x="111" y="272" width="4" height="1" fill="#808080"/>
<rect x="111" y="263" width="4" height="1" fill="#808080"/>
<rect x="111" y="257" width="4" height="1" fill="#808080"/>
<rect x="111" y="253" width="4" height="1" fill="#808080"/>
<rect x="111" y="249" width="4" height="1" fill="#808080"/>
<rect x="111" y="246" width="4" height="1" fill="#808080"/>
<rect x="111" y="243" width="4" height="1" fill="#808080"/>
<rect x="111" y="241" width="4" height="1" fill="#808080"/>
<rect x="111" y="238" width="5" height="1" fill="#000"/>
<rect x="111" y="319" width="4" height="1" fill="#808080"/>
<rect x="111" y="311" width="4" height="1" fill="#808080"/>
<rect x="111" y="305" width="4" height="1" fill="#808080"/>
<rect x="111" y="301" width="4" height="1" fill="#808080"/>
<rect x="111" y="297" width="4" height="1" fill="#808080"/>
<rect x="111" y="294" width="4" height="1" fill="#808080"/>
<rect x="111" y="291" width="4" height="1" fill="#808080"/>
<rect x="111" y="288" width="4" height="1" fill="#808080"/>
<rect x="111" y="286" width="5" height="1" fill="#000"/>
<rect x="111" y="367" width="4" height="1" fill="#808080"/>
<rect x="111" y="359" width="4" height="1" fill="#808080"/>
<rect x="111" y="353" width="4" height="1" fill="#808080"/>
<rect x="111" y="348" width="4" height="1" fill="#808080"/>
<rect x="111" y="344" width="4" height="1" fill="#808080"/>
<rect x="111" y="341" width="4" height="1" fill="#808080"/>
<rect x="111" y="338" width="4" height="1" fill="#808080"/>
<rect x="111" y="336" width="4" height="1" fill="#808080"/>
<rect x="111" y="334" width="5" height="1" fill="#000"/>
<rect x="111" y="415" width="4" height="1" fill="#808080"/>
<rect x="111" y="407" width="4" height="1" fill="#808080"/>
<rect x="111" y="401" width="4" height="1" fill="#808080"/>
<rect x="111" y="396" width="4" height="1" fill="#808080"/>
<rect x="111" y="392" width="4" height="1" fill="#808080"/>
<rect x="111" y="389" width="4" height="1" fill="#808080"/>
<rect x="111" y="386" width="4" height="1" fill="#808080"/>
<rect x="111" y="384" width="4" height="1" fill="#808080"/>
<rect x="111" y="382" width="5" height="1" fill="#000"/>
<rect x="111" y="463" width="4" height="1" fill="#808080"/>
<rect x="111" y="454" width="4" height="1" fill="#808080"/>
<rect x="111" y="448" width="4" height="1" fill="#808080"/>
<rect x="111" y="444" width="4" height="1" fill="#808080"/>
<rect x="111" y="440" width="4" height="1" fill="#808080"/>
<rect x="111" y="437" width="4" height="1" fill="#808080"/>
<rect x="111" y="434" width="4" height="1" fill="#808080"/>
<rect x="111" y="431" width="4" height="1" fill="#808080"/>
<rect x="111" y="429" width="5" height="1" fill="#000"/>
<rect x="111" y="477" width="5" height="1" fill="#000"/>
<text x="64.2" y="147" font-size="18" fill="#666" textLength="22.6" lengthAdjust="spacingAndGlyphs">10</text>
<text x="87.1" y="140" font-size="14.3" fill="#666" textLength="9.4" lengthAdjust="spacingAndGlyphs">7</text>
<text x="64.2" y="195" font-size="18" fill="#666" textLength="22.6" lengthAdjust="spacingAndGlyphs">10</text>
<text x="87.1" y="188" font-size="14.3" fill="#666" textLength="9.4" lengthAdjust="spacingAndGlyphs">6</text>
<text x="64.2" y="242" font-size="18" fill="#666" textLength="22.6" lengthAdjust="spacingAndGlyphs">10</text>
<text x="87.1" y="235" font-size="14.3" fill="#666" textLength="9.4" lengthAdjust="spacingAndGlyphs">5</text>
<text x="64.2" y="290" font-size="18" fill="#666" textLength="22.6" lengthAdjust="spacingAndGlyphs">10</text>
<text x="87.1" y="283" font-size="14.3" fill="#666" textLength="9.4" lengthAdjust="spacingAndGlyphs">4</text>
<text x="64.2" y="338" font-size="18" fill="#666" textLength="22.6" lengthAdjust="spacingAndGlyphs">10</text>
<text x="87.1" y="331" font-size="14.3" fill="#666" textLength="9.4" lengthAdjust="spacingAndGlyphs">3</text>
<text x="64.2" y="386" font-size="18" fill="#666" textLength="22.6" lengthAdjust="spacingAndGlyphs">10</text>
<text x="87.1" y="379" font-size="14.3" fill="#666" textLength="9.4" lengthAdjust="spacingAndGlyphs">2</text>
<text x="64.2" y="433" font-size="18" fill="#666" textLength="22.6" lengthAdjust="spacingAndGlyphs">10</text>
<text x="87.1" y="426" font-size="14.3" fill="#666" textLength="9.4" lengthAdjust="spacingAndGlyphs">1</text>
<text x="64.2" y="481" font-size="18" fill="#666" textLength="22.6" lengthAdjust="spacingAndGlyphs">10</text>
<text x="87.1" y="474" font-size="14.3" fill="#666" textLength="9.4" lengthAdjust="spacingAndGlyphs">0</text>
<g transform="rotate(-90)" fill="#666">
<text x="-428.9" y="48" font-size="18" textLength="71.5" lengthAdjust="spacingAndGlyphs">Particles</text>
<text x="-348.3" y="48" font-size="18">·</text>
<text x="-333.9" y="48" font-size="18" textLength="25.2" lengthAdjust="spacingAndGlyphs">cm</text>
<text x="-308.2" y="43" font-size="11" textLength="15" lengthAdjust="spacingAndGlyphs">−2</text>
<text x="-284.1" y="48" font-size="18">·</text>
<text x="-271.0" y="48" font-size="18">s</text>
<text x="-261.1" y="43" font-size="11" textLength="15" lengthAdjust="spacingAndGlyphs">−1</text>
<text x="-237.0" y="48" font-size="18">·</text>
<text x="-224.0" y="48" font-size="18" textLength="17.0" lengthAdjust="spacingAndGlyphs">sr</text>
<text x="-206.1" y="43" font-size="11" textLength="15" lengthAdjust="spacingAndGlyphs">−1</text>
</g>
<text x="110.9" y="502.1" font-size="18" fill="#666" text-anchor="middle" textLength="51.2" lengthAdjust="spacingAndGlyphs">00:00</text>
<text x="110.6" y="522.5" font-size="18" fill="#666" text-anchor="middle" textLength="48.9" lengthAdjust="spacingAndGlyphs">Mar 5</text>
<text x="183.7" y="502.1" font-size="18" fill="#666" text-anchor="middle" textLength="50.5" lengthAdjust="spacingAndGlyphs">12:00</text>
<text x="255.6" y="502.1" font-size="18" fill="#666" text-anchor="middle" textLength="51.2" lengthAdjust="spacingAndGlyphs">00:00</text>
<text x="255.3" y="522.5" font-size="18" fill="#666" text-anchor="middle" textLength="48.9" lengthAdjust="spacingAndGlyphs">Mar 6</text>
<text x="328.4" y="502.1" font-size="18" fill="#666" text-anchor="middle" textLength="50.5" lengthAdjust="spacingAndGlyphs">12:00</text>
<text x="400.3" y="502.1" font-size="18" fill="#666" text-anchor="middle" textLength="51.2" lengthAdjust="spacingAndGlyphs">00:00</text>
<text x="400.0" y="522.5" font-size="18" fill="#666" text-anchor="middle" textLength="48.9" lengthAdjust="spacingAndGlyphs">Mar 7</text>
<text x="473.1" y="502.1" font-size="18" fill="#666" text-anchor="middle" textLength="50.5" lengthAdjust="spacingAndGlyphs">12:00</text>
<text x="545.0" y="502.1" font-size="18" fill="#666" text-anchor="middle" textLength="51.2" lengthAdjust="spacingAndGlyphs">00:00</text>
<text x="544.7" y="522.5" font-size="18" fill="#666" text-anchor="middle" textLength="48.9" lengthAdjust="spacingAndGlyphs">Mar 8</text>
<text x="617.8" y="502.1" font-size="18" fill="#666" text-anchor="middle" textLength="50.5" lengthAdjust="spacingAndGlyphs">12:00</text>
<text x="689.8" y="502.1" font-size="18" fill="#666" text-anchor="middle" textLength="51.2" lengthAdjust="spacingAndGlyphs">00:00</text>
<text x="689.5" y="522.5" font-size="18" fill="#666" text-anchor="middle" textLength="48.9" lengthAdjust="spacingAndGlyphs">Mar 9</text>
<text x="762.5" y="502.1" font-size="18" fill="#666" text-anchor="middle" textLength="50.5" lengthAdjust="spacingAndGlyphs">12:00</text>
<text x="834.5" y="502.1" font-size="18" fill="#666" text-anchor="middle" textLength="51.2" lengthAdjust="spacingAndGlyphs">00:00</text>
<text x="834.2" y="522.5" font-size="18" fill="#666" text-anchor="middle" textLength="60.0" lengthAdjust="spacingAndGlyphs">Mar 10</text>
<text x="907.2" y="502.1" font-size="18" fill="#666" text-anchor="middle" textLength="50.5" lengthAdjust="spacingAndGlyphs">12:00</text>
<text x="979.2" y="502.1" font-size="18" fill="#666" text-anchor="middle" textLength="51.2" lengthAdjust="spacingAndGlyphs">00:00</text>
<text x="978.9" y="522.5" font-size="18" fill="#666" text-anchor="middle" textLength="60.0" lengthAdjust="spacingAndGlyphs">Mar 11</text>
<text x="1051.9" y="502.1" font-size="18" fill="#666" text-anchor="middle" textLength="50.5" lengthAdjust="spacingAndGlyphs">12:00</text>
<text x="1123.9" y="502.1" font-size="18" fill="#666" text-anchor="middle" textLength="51.2" lengthAdjust="spacingAndGlyphs">00:00</text>
<text x="1123.6" y="522.5" font-size="18" fill="#666" text-anchor="middle" textLength="60.0" lengthAdjust="spacingAndGlyphs">Mar 12</text>
<text y="557" font-size="18.1" fill="#666"><tspan x="552.12" textLength="81.39" lengthAdjust="spacingAndGlyphs">Universal</tspan> <tspan x="638.67" textLength="43.64" lengthAdjust="spacingAndGlyphs">Time</tspan></text>
<path d="M437 595H453" stroke="#00f" stroke-width="2" fill="none"/>
<text y="599.2" font-size="14.3" fill="#333" stroke="#333" stroke-width="0.4"><tspan x="457.41" textLength="62.74" lengthAdjust="spacingAndGlyphs">GOES-19</tspan> <tspan x="524.14" textLength="12.32" lengthAdjust="spacingAndGlyphs">≥</tspan> <tspan x="540.16" textLength="9.23" lengthAdjust="spacingAndGlyphs">2</tspan> <tspan x="552.77" textLength="29.92" lengthAdjust="spacingAndGlyphs">MeV</tspan></text>
<path d="M605 595H621" stroke="#f00" stroke-width="2" fill="none"/>
<text y="599.2" font-size="14.3" fill="#333" stroke="#333" stroke-width="0.4"><tspan x="625.71" textLength="62.74" lengthAdjust="spacingAndGlyphs">GOES-18</tspan> <tspan x="692.44" textLength="12.32" lengthAdjust="spacingAndGlyphs">≥</tspan> <tspan x="708.46" textLength="9.23" lengthAdjust="spacingAndGlyphs">2</tspan> <tspan x="721.07" textLength="29.92" lengthAdjust="spacingAndGlyphs">MeV</tspan></text>
<text y="617.1" font-size="14.6" fill="#000" font-weight="bold" font-family='"DejaVu Sans Condensed", "DejaVu Sans", "Liberation Sans", sans-serif'><tspan x="24.99" textLength="57.35" lengthAdjust="spacingAndGlyphs">Updated</tspan> <tspan x="86.40" textLength="85.94" lengthAdjust="spacingAndGlyphs">2026-03-11</tspan> <tspan x="178.68" textLength="40.00" lengthAdjust="spacingAndGlyphs">12:20</tspan> <tspan x="222.46" textLength="29.41" lengthAdjust="spacingAndGlyphs">UTC</tspan></text>
<text y="621.1" font-size="15.3" fill="#000" stroke="#000" stroke-width="0.3"><tspan x="927.93" textLength="42.40" lengthAdjust="spacingAndGlyphs">Space</tspan> <tspan x="974.06" textLength="59.12" lengthAdjust="spacingAndGlyphs">Weather</tspan> <tspan x="1037.35" textLength="73.50" lengthAdjust="spacingAndGlyphs">Prediction</tspan> <tspan x="1115.38" textLength="47.81" lengthAdjust="spacingAndGlyphs">Center</tspan></text>
</svg>
</body></html>
